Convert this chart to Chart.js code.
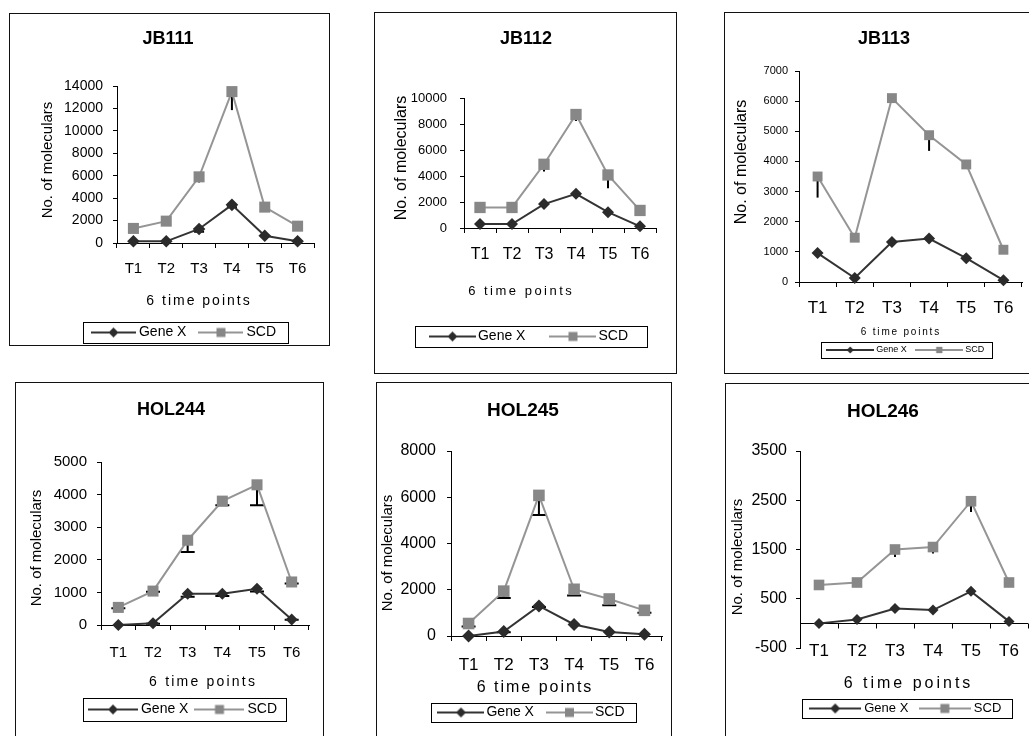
<!DOCTYPE html>
<html>
<head>
<meta charset="utf-8">
<title>Gene X and SCD over 6 time points</title>
<script src="https://cdn.jsdelivr.net/npm/chart.js@4.4.1/dist/chart.umd.min.js"></script>
<style>
  html, body { margin: 0; padding: 0; background: #fff; overflow: hidden; }
  body { width: 1029px; height: 736px; position: relative; }
  .panel { position: absolute; border: 1px solid #111; background: #fff; box-sizing: border-box; }
  .panel canvas { position: absolute; left: 0; top: 0; }
</style>
</head>
<body>
<script>
// ---- data ----
const timePoints = ['T1', 'T2', 'T3', 'T4', 'T5', 'T6'];
const samples = ['JB111', 'JB112', 'JB113', 'HOL244', 'HOL245', 'HOL246'];

const geneXJB111 = [150, 150, 1250, 3400, 650, 150];
const scdJB111 = [1300, 1950, 5900, 13500, 3200, 1500];
const geneXErrJB111 = [0, 0, 250, 220, 0, 0];
const scdErrJB111 = [0, 0, 500, 1650, 0, 0];

const geneXJB112 = [300, 300, 1840, 2630, 1220, 130];
const scdJB112 = [1580, 1580, 4900, 8730, 4080, 1350];
const geneXErrJB112 = [0, 0, 0, 0, 0, 0];
const scdErrJB112 = [0, 0, 550, 500, 1020, 0];

const geneXJB113 = [960, 130, 1330, 1440, 790, 60];
const scdJB113 = [3500, 1470, 6100, 4870, 3900, 1070];
const geneXErrJB113 = [0, 0, 0, 0, 0, 0];
const scdErrJB113 = [700, 0, 0, 520, 0, 0];

const geneXHOL244 = [0, 50, 960, 960, 1110, 170];
const scdHOL244 = [540, 1040, 2600, 3800, 4300, 1320];
const geneXErrHOL244 = [0, 10, 90, 70, 80, 10];
const scdErrHOL244 = [30, 20, 360, 130, 630, 45];

const geneXHOL245 = [0, 190, 1300, 500, 170, 80];
const scdHOL245 = [540, 1940, 6080, 2020, 1600, 1110];
const geneXErrHOL245 = [0, 30, 50, 0, 0, 0];
const scdErrHOL245 = [130, 300, 850, 270, 270, 100];

const geneXHOL246 = [0, 80, 300, 270, 650, 40];
const scdHOL246 = [780, 830, 1500, 1550, 2480, 830];
const geneXErrHOL246 = [0, 0, 0, 0, 0, 0];
const scdErrHOL246 = [0, 0, 150, 130, 220, 40];

const geneXSeries = [geneXJB111, geneXJB112, geneXJB113, geneXHOL244, geneXHOL245, geneXHOL246];
const scdSeries = [scdJB111, scdJB112, scdJB113, scdHOL244, scdHOL245, scdHOL246];
const geneXErrors = [geneXErrJB111, geneXErrJB112, geneXErrJB113, geneXErrHOL244, geneXErrHOL245, geneXErrHOL246];
const scdErrors = [scdErrJB111, scdErrJB112, scdErrJB113, scdErrHOL244, scdErrHOL245, scdErrHOL246];

const yMin = [0, 0, 0, 0, 0, -500];
const yMax = [14000, 10000, 7000, 5000, 8000, 3500];
const yStep = [2000, 2000, 1000, 1000, 2000, 1000];

// ---- layout of each panel (page px / canvas px) ----
// xTick: [size, tick length, padding, mirror]
const panels = [
  { box: [9, 13, 321, 333], plot: [107, 72, 304, 229], title: [158, 25, 18],
    yTick: [14, 4, 10], xTick: [15, 5, 12], yTitle: [38, 146, 15], xTitle: [188, 287, 14, 2],
    legend: [175.5, 318.5, 205, 21, 14, 45, 3, 16, 5], marks: [6.3, 7.8], caps: [10, 0] },
  { box: [374, 12, 303, 362], plot: [89, 85, 281, 215], title: [151, 26, 18],
    yTick: [13, 4, 13], xTick: [16, 5, 12], yTitle: [27, 145, 16], xTitle: [145, 278, 13, 2.5],
    legend: [156, 323.5, 232, 21, 14, 47, 2, 29, 5], marks: [6, 8], caps: [0, 0] },
  { box: [724, 12, 317, 362], plot: [74, 58, 297, 269], title: [159, 26, 18],
    yTick: [11, 4, 7], xTick: [17, 5, 11], yTitle: [17, 149, 16], xTitle: [175, 319, 10, 1.8],
    legend: [181.5, 337, 171, 16, 9, 48, 2, 11, 3.5], marks: [6, 7], caps: [0, 0] },
  { box: [15, 382, 309, 364], plot: [85, 79, 293, 242], title: [155, 27, 18],
    yTick: [15, 4, 10], xTick: [15, 5, 14], yTitle: [21, 165, 15], xTitle: [186, 299, 14, 2.2],
    legend: [168.5, 326.5, 203, 23, 14, 50, 3, 10, 5], marks: [6, 7.8], caps: [14, 14] },
  { box: [376, 382, 296, 364], plot: [74, 68, 285, 253], title: [146, 28, 19],
    yTick: [16, 4, 11], xTick: [17, 5, 14], yTitle: [11, 170, 15], xTitle: [157, 305, 16, 2],
    legend: [156.5, 329.5, 205, 19, 14, 47, 2, 17, 5], marks: [6.5, 8.2], caps: [14, 14] },
  { box: [725, 383, 316, 363], plot: [74, 67, 302, 264], title: [157, 28, 19],
    yTick: [16, 4, 9], xTick: [17, 0, -13.2, true], yTitle: [12, 173, 15], xTitle: [181, 300, 16, 3],
    legend: [181, 324.5, 210, 19, 13, 52, 3, 14, 5], marks: [5.5, 7.5], caps: [0, 0], zeroAxis: true }
];

const GENE_LINE = '#333333', GENE_MARK = '#2b2b2b';
const SCD_LINE = '#959595', SCD_MARK = '#878787';

Chart.defaults.font.family = '"Liberation Sans", Arial, Helvetica, sans-serif';
Chart.defaults.color = '#000';

// small line + marker picture used as the legend symbol
function legendIcon(style, lineColor, markColor, width, r) {
  const c = document.createElement('canvas');
  const h = 2 * Math.ceil(r) + 4;
  c.width = width; c.height = h;
  const g = c.getContext('2d');
  g.strokeStyle = lineColor; g.lineWidth = 2;
  g.beginPath(); g.moveTo(0, h / 2); g.lineTo(width, h / 2); g.stroke();
  g.fillStyle = markColor;
  g.beginPath();
  if (style === 'rectRot') {
    g.moveTo(width / 2 - r, h / 2); g.lineTo(width / 2, h / 2 - r);
    g.lineTo(width / 2 + r, h / 2); g.lineTo(width / 2, h / 2 + r); g.closePath();
  } else {
    g.rect(width / 2 - r * 0.9, h / 2 - r * 0.9, r * 1.8, r * 1.8);
  }
  g.fill();
  return c;
}

// move an axis title to a fixed spot, optionally letter-spaced
function wrapAxisTitle(scale, t) {
  if (scale.$placed) return;
  scale.$placed = true;
  const orig = scale.drawTitle;
  scale.drawTitle = function () {
    const half = t.size * 0.6;
    let x0, y0;
    if (this.isHorizontal()) { x0 = (this.left + this.right) / 2; y0 = this.bottom - half; }
    else { x0 = this.left + half; y0 = (this.top + this.bottom) / 2; }
    const ctx = this.ctx;
    ctx.save();
    ctx.translate(t.x - x0 + (t.spacing || 0) / 2, t.y - y0);
    if (t.spacing) ctx.letterSpacing = t.spacing + 'px';
    orig.call(this);
    ctx.restore();
  };
}

const errorBars = {
  id: 'errorBars',
  beforeDatasetsDraw(chart) {
    const ctx = chart.ctx, y = chart.scales.y;
    chart.data.datasets.forEach((ds, d) => {
      const meta = chart.getDatasetMeta(d);
      const errs = ds.errorMinus || [];
      const cap = ds.errorCap || 0;
      ctx.save();
      ctx.strokeStyle = '#000';
      ctx.lineWidth = 2;
      meta.data.forEach((pt, i) => {
        const e = errs[i];
        if (!e) return;
        const y1 = y.getPixelForValue(ds.data[i] - e);
        ctx.beginPath();
        ctx.moveTo(pt.x, pt.y);
        ctx.lineTo(pt.x, y1);
        if (cap) { ctx.moveTo(pt.x - cap / 2, y1); ctx.lineTo(pt.x + cap / 2, y1); }
        ctx.stroke();
      });
      ctx.restore();
    });
  }
};

// x axis line drawn through y = 0 (used where the scale goes negative)
const zeroAxis = {
  id: 'zeroAxis',
  beforeDatasetsDraw(chart, args, opts) {
    if (!opts.display) return;
    const {ctx, chartArea} = chart;
    const x = chart.scales.x, y = chart.scales.y;
    const y0 = Math.round(y.getPixelForValue(0)) + 0.5;
    const n = chart.data.labels.length;
    const step = x.getPixelForValue(1) - x.getPixelForValue(0);
    ctx.save();
    ctx.strokeStyle = '#000';
    ctx.lineWidth = 1;
    ctx.beginPath();
    ctx.moveTo(chartArea.left, y0);
    ctx.lineTo(chartArea.right, y0);
    for (let k = 0; k <= n; k++) {
      const px = Math.round(x.getPixelForValue(0) + (k - 0.5) * step) + 0.5;
      ctx.moveTo(px, y0);
      ctx.lineTo(px, y0 + 5);
    }
    ctx.stroke();
    ctx.restore();
  }
};

function makePlacement(p) {
  return {
    id: 'placement',
    beforeDraw(chart) {
      const tb = chart.titleBlock;
      if (tb) { const w = tb.right - tb.left; tb.left = p.title[0] - w / 2; tb.right = tb.left + w; }
      const lg = chart.legend;
      if (lg) {
        const w = lg.right - lg.left, h = lg.bottom - lg.top;
        lg.left = p.legend[0] - w / 2; lg.right = lg.left + w;
        lg.top = p.legend[1] - lg.options.labels.padding - p.legend[4] / 2; lg.bottom = lg.top + h;
      }
      wrapAxisTitle(chart.scales.x, {x: p.xTitle[0], y: p.xTitle[1], size: p.xTitle[2], spacing: p.xTitle[3]});
      wrapAxisTitle(chart.scales.y, {x: p.yTitle[0], y: p.yTitle[1], size: p.yTitle[2]});
    },
    afterDraw(chart) {
      const ctx = chart.ctx;
      const [cx, cy, bw, bh] = p.legend;
      ctx.save();
      ctx.strokeStyle = '#000';
      ctx.lineWidth = 1;
      ctx.strokeRect(Math.round(cx - bw / 2) + 0.5, Math.round(cy - bh / 2) + 0.5, bw, bh);
      ctx.restore();
    }
  };
}

panels.forEach((p, k) => {
  const div = document.createElement('div');
  div.className = 'panel';
  div.style.left = p.box[0] + 'px';
  div.style.top = p.box[1] + 'px';
  div.style.width = p.box[2] + 'px';
  div.style.height = p.box[3] + 'px';
  const canvas = document.createElement('canvas');
  const W = p.box[2] - 2, H = p.box[3] - 2;
  canvas.width = W; canvas.height = H;
  canvas.style.width = W + 'px'; canvas.style.height = H + 'px';
  div.appendChild(canvas);
  document.body.appendChild(div);

  const [L, T, R, B] = p.plot;
  const [tcx, tcy, tfs] = p.title;
  const [lcx, lcy, lbw, lbh, lfs, iw, gap, lpad, lr] = p.legend;
  const icons = [legendIcon('rectRot', GENE_LINE, GENE_MARK, iw, lr), legendIcon('rect', SCD_LINE, SCD_MARK, iw, lr)];

  new Chart(canvas, {
    type: 'line',
    data: {
      labels: timePoints,
      datasets: [
        { label: 'Gene X', data: geneXSeries[k], errorMinus: geneXErrors[k], errorCap: p.caps[0],
          borderColor: GENE_LINE, backgroundColor: GENE_MARK, borderWidth: 2,
          pointStyle: 'rectRot', pointRadius: p.marks[0], pointBorderWidth: 0,
          pointBackgroundColor: GENE_MARK, tension: 0, clip: false },
        { label: 'SCD', data: scdSeries[k], errorMinus: scdErrors[k], errorCap: p.caps[1],
          borderColor: SCD_LINE, backgroundColor: SCD_MARK, borderWidth: 2,
          pointStyle: 'rect', pointRadius: p.marks[1], pointBorderWidth: 0,
          pointBackgroundColor: SCD_MARK, tension: 0, clip: false }
      ]
    },
    options: {
      responsive: false,
      maintainAspectRatio: false,
      animation: false,
      events: [],
      layout: { padding: { left: 0, top: 0, right: W - R, bottom: 0 } },
      scales: {
        x: {
          offset: true,
          grid: { display: !p.zeroAxis, offset: true, drawOnChartArea: false, drawTicks: !p.zeroAxis,
                  tickLength: p.xTick[1], color: '#000' },
          border: { display: !p.zeroAxis, color: '#000', width: 1 },
          ticks: { font: { size: p.xTick[0] }, padding: p.xTick[2], mirror: !!p.xTick[3],
                   color: '#000', autoSkip: false, maxRotation: 0 },
          title: { display: true, text: '6 time points', font: { size: p.xTitle[2] }, padding: 0, color: '#000' },
          afterFit: (scale) => { scale.height = scale.chart.height - scale.chart.legend.height - B; }
        },
        y: {
          min: yMin[k], max: yMax[k],
          grid: { drawOnChartArea: false, tickLength: p.yTick[1], color: '#000' },
          border: { color: '#000', width: 1 },
          ticks: { stepSize: yStep[k], font: { size: p.yTick[0] }, padding: p.yTick[2], color: '#000',
                   callback: (v) => String(v) },
          title: { display: true, text: 'No. of moleculars', font: { size: p.yTitle[2] }, padding: 0, color: '#000' },
          afterFit: (scale) => { scale.width = L; }
        }
      },
      plugins: {
        title: { display: true, text: samples[k], color: '#000',
                 font: { size: tfs, weight: 'bold' },
                 padding: { top: tcy - 0.6 * tfs, bottom: T - tcy - 0.6 * tfs } },
        legend: {
          display: true, position: 'bottom',
          labels: {
            font: { size: lfs }, color: '#000', padding: lpad,
            usePointStyle: true, pointStyleWidth: iw + 2 * gap - lfs,
            generateLabels: (chart) => chart.data.datasets.map((ds, i) => ({
              text: ds.label, pointStyle: icons[i], fillStyle: ds.backgroundColor,
              strokeStyle: ds.borderColor, lineWidth: 0, hidden: false, datasetIndex: i, fontColor: '#000'
            }))
          }
        },
        tooltip: { enabled: false },
        zeroAxis: { display: !!p.zeroAxis }
      }
    },
    plugins: [errorBars, zeroAxis, makePlacement(p)]
  });
});
</script>
</body>
</html>
